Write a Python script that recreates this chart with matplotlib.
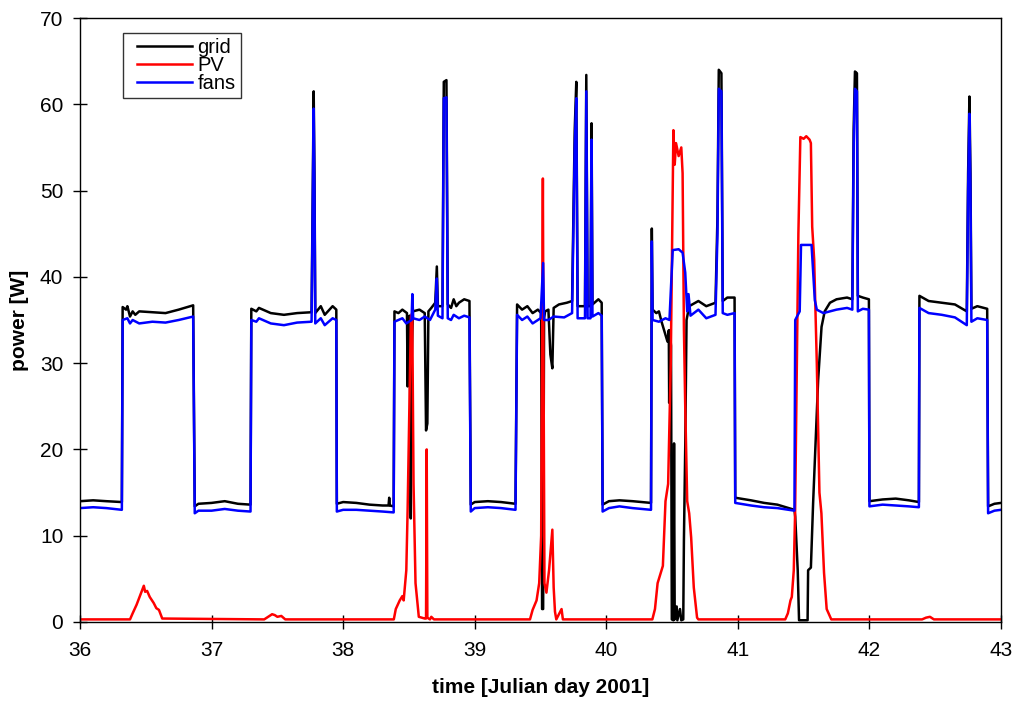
import matplotlib
matplotlib.use('Agg')
import matplotlib.pyplot as plt
from matplotlib.legend_handler import HandlerLine2D

plt.rcParams['font.family'] = ['Liberation Sans', 'DejaVu Sans']

# time [Julian day 2001] breakpoints and power [W] values
t_grid = [36.000, 36.100, 36.200, 36.318, 36.324, 36.350, 36.360, 36.380, 36.400, 36.420,
          36.450, 36.550, 36.650, 36.750, 36.860, 36.872, 36.900, 37.000, 37.100, 37.200,
          37.296, 37.302, 37.340, 37.360, 37.450, 37.550, 37.650, 37.760, 37.770, 37.776,
          37.782, 37.788, 37.830, 37.860, 37.920, 37.948, 37.952, 38.000, 38.100, 38.200,
          38.300, 38.345, 38.350, 38.355, 38.384, 38.390, 38.420, 38.450, 38.485, 38.490,
          38.495, 38.505, 38.510, 38.514, 38.520, 38.530, 38.580, 38.620, 38.630, 38.640,
          38.648, 38.670, 38.700, 38.712, 38.720, 38.755, 38.765, 38.785, 38.795, 38.820,
          38.840, 38.860, 38.880, 38.920, 38.960, 38.970, 39.000, 39.100, 39.200, 39.310,
          39.322, 39.360, 39.400, 39.440, 39.480, 39.505, 39.512, 39.520, 39.527, 39.535,
          39.560, 39.575, 39.590, 39.600, 39.640, 39.700, 39.740, 39.760, 39.772, 39.782,
          39.838, 39.848, 39.858, 39.880, 39.888, 39.895, 39.940, 39.965, 39.972, 40.020,
          40.100, 40.200, 40.340, 40.346, 40.352, 40.380, 40.400, 40.420, 40.445, 40.465,
          40.475, 40.478, 40.482, 40.492, 40.498, 40.510, 40.515, 40.520, 40.535, 40.540,
          40.560, 40.570, 40.585, 40.590, 40.600, 40.610, 40.630, 40.700, 40.760, 40.830,
          40.845, 40.855, 40.875, 40.885, 40.920, 40.975, 40.980, 41.020, 41.100, 41.200,
          41.300, 41.430, 41.436, 41.455, 41.465, 41.530, 41.534, 41.555, 41.572, 41.610,
          41.636, 41.660, 41.700, 41.750, 41.830, 41.870, 41.880, 41.890, 41.905, 41.912,
          41.950, 41.996, 42.000, 42.100, 42.200, 42.300, 42.376, 42.380, 42.450, 42.550,
          42.650, 42.740, 42.750, 42.760, 42.768, 42.775, 42.820, 42.895, 42.902, 42.950,
          43.000]
grid = [14.0, 14.1, 14.0, 13.9, 36.5, 36.2, 36.6, 35.4, 36.0, 35.6,
        36.0, 35.9, 35.8, 36.2, 36.7, 13.4, 13.7, 13.8, 14.0, 13.7,
        13.6, 36.3, 36.0, 36.4, 35.8, 35.6, 35.8, 35.9, 52.0, 61.5,
        52.0, 35.8, 36.6, 35.6, 36.6, 36.2, 13.7, 13.9, 13.8, 13.6,
        13.5, 13.5, 14.4, 13.5, 13.4, 36.0, 35.8, 36.2, 35.8, 27.3,
        35.2, 35.5, 24.6, 12.0, 30.0, 36.0, 36.2, 35.8, 22.2, 23.0,
        36.0, 36.4, 37.0, 41.2, 36.6, 36.6, 62.6, 62.8, 36.8, 36.4,
        37.4, 36.6, 37.0, 37.4, 37.2, 13.6, 13.9, 14.0, 13.9, 13.7,
        36.8, 36.2, 36.6, 35.8, 36.2, 35.8, 1.5, 1.5, 35.2, 36.0,
        36.2, 31.0, 29.4, 36.4, 36.8, 37.0, 37.2, 57.0, 62.6, 36.6,
        36.6, 63.4, 36.6, 36.6, 57.8, 36.8, 37.4, 37.0, 13.6, 14.0,
        14.1, 14.0, 13.8, 45.6, 36.2, 35.8, 36.0, 34.8, 33.5, 32.5,
        33.8, 25.4, 33.8, 32.0, 0.3, 0.2, 20.7, 0.3, 1.8, 0.2,
        1.5, 0.2, 0.3, 9.5, 20.3, 35.0, 36.6, 37.2, 36.6, 37.0,
        47.0, 64.0, 63.6, 37.2, 37.6, 37.6, 14.4, 14.3, 14.1, 13.8,
        13.6, 13.0, 12.2, 6.0, 0.2, 0.2, 6.0, 6.3, 13.8, 28.0,
        34.2, 36.0, 37.0, 37.4, 37.6, 37.4, 57.0, 63.8, 63.6, 37.8,
        37.6, 37.4, 14.0, 14.2, 14.3, 14.1, 13.9, 37.8, 37.2, 37.0,
        36.8, 36.0, 52.0, 60.9, 52.0, 36.3, 36.6, 36.3, 13.4, 13.7,
        13.8]

t_pv = [36.000, 36.380, 36.400, 36.430, 36.460, 36.485, 36.495, 36.510, 36.530, 36.560,
        36.580, 36.600, 36.625, 37.400, 37.430, 37.460, 37.480, 37.500, 37.530, 37.560,
        38.385, 38.400, 38.430, 38.450, 38.460, 38.480, 38.490, 38.515, 38.525, 38.535,
        38.550, 38.575, 38.620, 38.630, 38.635, 38.640, 38.660, 38.670, 38.690, 39.420,
        39.440, 39.470, 39.490, 39.505, 39.518, 39.523, 39.530, 39.545, 39.565, 39.590,
        39.600, 39.610, 39.620, 39.660, 39.670, 40.350, 40.370, 40.390, 40.410, 40.430,
        40.450, 40.470, 40.490, 40.510, 40.520, 40.530, 40.550, 40.570, 40.580, 40.590,
        40.600, 40.615, 40.630, 40.645, 40.665, 40.690, 40.700, 41.360, 41.380, 41.400,
        41.410, 41.425, 41.435, 41.460, 41.475, 41.500, 41.520, 41.545, 41.555, 41.565,
        41.580, 41.600, 41.620, 41.635, 41.655, 41.675, 41.710, 42.400, 42.430, 42.460,
        42.490, 43.000]
pv = [0.3, 0.3, 1.0, 2.0, 3.2, 4.2, 3.5, 3.6, 2.9, 2.2,
      1.6, 1.4, 0.4, 0.3, 0.6, 0.9, 0.8, 0.6, 0.7, 0.3,
      0.3, 1.5, 2.5, 3.0, 2.5, 6.0, 13.0, 35.4, 35.8, 16.0,
      4.5, 0.6, 0.4, 0.4, 20.0, 0.5, 0.3, 0.6, 0.3, 0.3,
      1.4, 2.5, 4.5, 10.0, 51.4, 30.0, 4.5, 3.4, 6.0, 10.7,
      4.0, 1.2, 0.3, 1.5, 0.3, 0.3, 1.5, 4.5, 5.5, 6.5,
      14.0, 16.0, 30.0, 57.0, 53.0, 55.5, 54.0, 55.0, 52.0, 34.0,
      25.0, 14.0, 12.6, 9.8, 4.0, 0.5, 0.3, 0.3, 1.0, 2.5,
      2.9, 6.0, 12.6, 45.0, 56.2, 56.0, 56.3, 55.9, 55.5, 45.8,
      42.0, 30.0, 15.0, 12.6, 5.7, 1.5, 0.3, 0.3, 0.5, 0.6,
      0.3, 0.3]

t_fans = [36.000, 36.100, 36.200, 36.318, 36.324, 36.360, 36.380, 36.400, 36.450, 36.550,
          36.650, 36.750, 36.860, 36.872, 36.900, 37.000, 37.100, 37.200, 37.296, 37.302,
          37.340, 37.360, 37.450, 37.550, 37.650, 37.760, 37.770, 37.776, 37.782, 37.788,
          37.830, 37.860, 37.920, 37.948, 37.952, 38.000, 38.100, 38.200, 38.300, 38.384,
          38.390, 38.450, 38.480, 38.520, 38.526, 38.532, 38.580, 38.620, 38.660, 38.700,
          38.712, 38.720, 38.755, 38.765, 38.785, 38.795, 38.820, 38.840, 38.880, 38.920,
          38.960, 38.970, 39.000, 39.100, 39.200, 39.310, 39.322, 39.360, 39.400, 39.440,
          39.500, 39.512, 39.520, 39.527, 39.560, 39.600, 39.680, 39.740, 39.760, 39.772,
          39.782, 39.838, 39.848, 39.858, 39.880, 39.888, 39.895, 39.940, 39.965, 39.972,
          40.020, 40.100, 40.200, 40.340, 40.346, 40.352, 40.400, 40.450, 40.480, 40.495,
          40.505, 40.550, 40.580, 40.600, 40.615, 40.625, 40.640, 40.700, 40.760, 40.830,
          40.845, 40.855, 40.875, 40.885, 40.920, 40.975, 40.980, 41.020, 41.100, 41.200,
          41.300, 41.430, 41.436, 41.470, 41.480, 41.560, 41.585, 41.600, 41.650, 41.750,
          41.830, 41.870, 41.880, 41.890, 41.905, 41.912, 41.950, 41.996, 42.000, 42.100,
          42.200, 42.300, 42.376, 42.380, 42.450, 42.550, 42.650, 42.740, 42.750, 42.760,
          42.768, 42.775, 42.820, 42.895, 42.902, 42.950, 43.000]
fans = [13.2, 13.3, 13.2, 13.0, 35.0, 35.2, 34.6, 35.0, 34.6, 34.8,
        34.7, 35.0, 35.4, 12.6, 12.9, 12.9, 13.1, 12.9, 12.8, 35.0,
        34.8, 35.2, 34.6, 34.4, 34.7, 34.8, 50.0, 59.5, 50.0, 34.6,
        35.2, 34.4, 35.2, 35.0, 12.8, 13.0, 13.0, 12.9, 12.8, 12.7,
        34.8, 35.2, 34.6, 35.0, 38.0, 35.2, 35.0, 35.4, 35.0, 36.2,
        39.8, 35.5, 35.2, 60.7, 60.8, 35.2, 35.0, 35.6, 35.2, 35.5,
        35.3, 12.8, 13.2, 13.3, 13.2, 13.0, 35.6, 35.0, 35.4, 34.6,
        35.2, 38.9, 41.6, 35.0, 35.0, 35.4, 35.3, 35.8, 55.0, 60.7,
        35.2, 35.2, 61.5, 35.2, 35.2, 55.9, 35.4, 35.8, 35.5, 12.8,
        13.2, 13.4, 13.2, 13.0, 44.1, 35.0, 34.8, 35.2, 35.0, 40.0,
        43.1, 43.2, 42.8, 40.5, 36.0, 38.0, 35.5, 36.2, 35.2, 35.6,
        45.0, 61.8, 61.5, 35.8, 35.6, 35.8, 13.8, 13.7, 13.5, 13.3,
        13.2, 12.9, 35.0, 36.0, 43.7, 43.7, 37.3, 36.2, 35.8, 36.2,
        36.4, 36.2, 55.0, 61.8, 61.5, 36.0, 36.3, 36.2, 13.4, 13.6,
        13.5, 13.4, 13.3, 36.4, 35.8, 35.6, 35.3, 34.4, 50.0, 58.9,
        50.0, 34.8, 35.2, 35.0, 12.6, 12.9, 13.0]


class IndentedLine(HandlerLine2D):
    # legend line starts a little right of the handle box edge
    def get_xdata(self, legend, xdescent, ydescent, width, height, fontsize):
        x0 = -xdescent + 0.45 * fontsize
        x1 = -xdescent + width
        return [x0, x1], [0.5 * (x0 + x1)]


fig = plt.figure(figsize=(10.18, 7.06), dpi=100)
ax = fig.add_axes([0.0786, 0.119, 0.9047, 0.8555])

ax.plot(t_grid, grid, color='black', lw=1.8, label='grid')
ax.plot(t_pv, pv, color='#ff0000', lw=1.8, label='PV')
ax.plot(t_fans, fans, color='#0000ff', lw=1.8, label='fans')

ax.set_xlim(36, 43)
ax.set_ylim(0, 70)
ax.set_xticks(range(36, 44))
ax.set_yticks(range(0, 80, 10))
ax.tick_params(direction='inout', length=10, width=1, labelsize=15, pad=7)
ax.tick_params(axis='x', pad=9)
for s in ax.spines.values():
    s.set_linewidth(1)

ax.set_xlabel('time [Julian day 2001]', fontsize=15, fontweight='bold', labelpad=13)
ax.set_ylabel('power [W]', fontsize=15, fontweight='bold', labelpad=8)

handles, labels = ax.get_legend_handles_labels()
leg = ax.legend(handles, labels, loc='upper left', bbox_to_anchor=(0.047, 0.975),
                borderaxespad=0, fontsize=14.5, frameon=True, fancybox=False,
                shadow=False, labelspacing=-0.05, handlelength=3.18,
                handletextpad=0.25, borderpad=0.25,
                handler_map={h: IndentedLine() for h in handles})
leg.get_frame().set_edgecolor('black')
leg.get_frame().set_linewidth(1)

plt.savefig('out.png', dpi=100)
